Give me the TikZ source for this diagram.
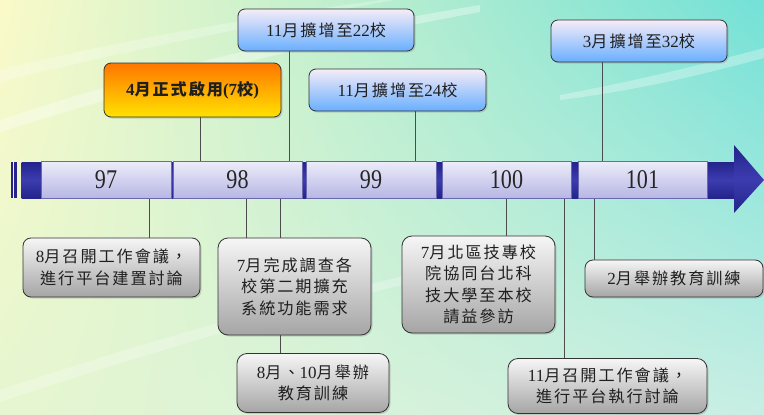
\documentclass[tikz,border=0pt]{standalone}
\usepackage{graphicx}
\usepackage{fontspec}
\setmainfont{Liberation Serif}
\newfontfamily\cjk[Scale=0.95,LetterSpace=12]{Noto Sans CJK TC}
\newcommand{\zh}[1]{{\cjk #1}}
\newcommand{\yr}[1]{\scalebox{0.82}[1]{#1}}
\usetikzlibrary{shadows,shadings}

\definecolor{bgul}{RGB}{250,250,200}
\definecolor{bgur}{RGB}{115,225,215}
\definecolor{bgll}{RGB}{230,246,208}
\definecolor{bglr}{RGB}{200,238,228}
\definecolor{barblue}{RGB}{36,36,140}
\definecolor{barlight}{RGB}{60,60,175}
\definecolor{segtop}{RGB}{236,236,250}
\definecolor{segbot}{RGB}{182,182,228}
\definecolor{segedge}{RGB}{105,105,175}
\definecolor{bluetop}{RGB}{246,236,248}
\definecolor{bluebot}{RGB}{105,175,255}
\definecolor{orgtop}{RGB}{255,118,0}
\definecolor{orgbot}{RGB}{255,226,0}
\definecolor{graytop}{RGB}{246,246,246}
\definecolor{graybot}{RGB}{165,165,165}

\begin{document}
\begin{tikzpicture}[x=1pt, y=-1pt,
  txt/.style={font=\fontsize{17}{21.5}\selectfont, text=black!88, align=center},
  yearbox/.style={draw=segedge, line width=0.8pt, top color=segtop, bottom color=segbot,
    minimum width=129pt, minimum height=37pt, inner sep=0pt,
    font=\fontsize{27}{27}\selectfont, text=black!85},
  evtbox/.style={txt, draw=black!80, line width=0.8pt, rounded corners=7pt, inner sep=0pt,
    drop shadow={shadow xshift=1.5pt, shadow yshift=-1.5pt, opacity=0.3}},
  bluebox/.style={evtbox, top color=bluetop, bottom color=bluebot},
  orgbox/.style={evtbox, top color=orgtop, bottom color=orgbot},
  graybox/.style={evtbox, top color=graytop, bottom color=graybot, rounded corners=10pt},
  link/.style={draw=black!70, line width=0.8pt}]

  \useasboundingbox (0,0) rectangle (764,415);

  % Background
  \shade[upper left=bgul, upper right=bgur, lower left=bgll, lower right=bglr] (0,0) rectangle (764,415);
  \fill[white, opacity=0.35] (0,120) .. controls (150,70) and (300,35) .. (480,5)
    -- (480,12) .. controls (300,45) and (150,85) .. (0,132) -- cycle;
  \fill[white, opacity=0.25] (0,70) .. controls (120,40) and (250,18) .. (380,0)
    -- (395,0) .. controls (250,26) and (120,52) .. (0,82) -- cycle;
  \fill[white, opacity=0.3] (560,95) .. controls (640,80) and (700,65) .. (764,48)
    -- (764,58) .. controls (700,75) and (640,90) .. (560,100) -- cycle;
  \fill[white, opacity=0.25] (0,390) .. controls (180,330) and (300,300) .. (430,270)
    -- (430,278) .. controls (300,310) and (180,342) .. (0,402) -- cycle;

  % Timeline bar
  \shade[top color=barblue, bottom color=barblue, middle color=barlight] (21.7,162) rectangle (734,198);
  \shade[top color=barblue, bottom color=barblue, middle color=barlight] (734,145) -- (764,180) -- (734,213) -- cycle;
  \fill[barblue] (10.7,162) rectangle (12.7,198);
  \fill[barblue] (14.3,162) rectangle (16.7,198);

  % Years
  \node[yearbox, minimum width=130pt] (y97) at (106,180) {\yr{97}};
  \node[yearbox] (y98) at (237.5,180) {\yr{98}};
  \node[yearbox, minimum width=130pt] (y99) at (371,180) {\yr{99}};
  \node[yearbox] (y100) at (506.5,180) {\yr{100}};
  \node[yearbox] (y101) at (642.5,180) {\yr{101}};

  % Events above the bar
  \node[bluebox, minimum width=176pt, minimum height=42pt] (nov22) at (326,30) {11\zh{月擴增至}22\zh{校}};
  \node[orgbox, minimum width=177pt, minimum height=54pt, font=\fontsize{17}{21.5}\selectfont\bfseries] (apr7) at (192.5,90) {4\zh{月正式啟用}(7\zh{校})};
  \node[bluebox, minimum width=177pt, minimum height=42pt] (nov24) at (397.5,90) {11\zh{月擴增至}24\zh{校}};
  \node[bluebox, minimum width=176pt, minimum height=42pt] (mar32) at (639,41) {3\zh{月擴增至}32\zh{校}};

  % Events below the bar
  \node[graybox, minimum width=177pt, minimum height=59pt, rounded corners=8pt] (aug97) at (111.5,267.5) {8\zh{月召開工作會議，}\\\zh{進行平台建置討論}};
  \node[graybox, minimum width=153pt, minimum height=97pt] (jul98) at (294.5,286.5) {7\zh{月完成調查各}\\\zh{校第二期擴充}\\\zh{系統功能需求}};
  \node[graybox, minimum width=152pt, minimum height=59pt] (train98) at (313,383) {8\zh{月、}10\zh{月舉辦}\\\zh{教育訓練}};
  \node[graybox, minimum width=153pt, minimum height=97pt] (visit100) at (478.5,284.5) {7\zh{月北區技專校}\\\zh{院協同台北科}\\\zh{技大學至本校}\\\zh{請益參訪}};
  \node[graybox, minimum width=178pt, minimum height=37pt, rounded corners=8pt] (feb101) at (674,278.5) {2\zh{月舉辦教育訓練}};
  \node[graybox, minimum width=199pt, minimum height=55pt] (nov100) at (607.5,386) {11\zh{月召開工作會議，}\\\zh{進行平台執行討論}};

  % Connectors
  \coordinate (c1) at ([xshift=7.5]apr7.south);
  \coordinate (c2) at ([xshift=-37]nov22.south);
  \coordinate (c3) at ([xshift=17.5]nov24.south);
  \coordinate (c4) at ([xshift=-37]mar32.south);
  \coordinate (c5) at ([xshift=43]y97.south);
  \coordinate (c6) at ([xshift=8.5]y98.south);
  \coordinate (c7) at ([xshift=42.5]y98.south);
  \coordinate (c8) at (y100.south);
  \coordinate (c9) at ([xshift=57.5]y100.south);
  \coordinate (c10) at ([xshift=-48.5]y101.south);

  \draw[link] (c1) -- (c1 |- y98.north);
  \draw[link] (c2) -- (c2 |- y98.north);
  \draw[link] (c3) -- (c3 |- y99.north);
  \draw[link] (c4) -- (c4 |- y101.north);
  \draw[link] (c5) -- (c5 |- aug97.north);
  \draw[link] (c6) -- (c6 |- jul98.north);
  \draw[link] (c7) -- (c7 |- jul98.north);
  \draw[link] (c7 |- jul98.south) -- (c7 |- train98.north);
  \draw[link] (c8) -- (c8 |- visit100.north);
  \draw[link] (c9) -- (c9 |- nov100.north);
  \draw[link] (c10) -- (c10 |- feb101.north);

\end{tikzpicture}
\end{document}
